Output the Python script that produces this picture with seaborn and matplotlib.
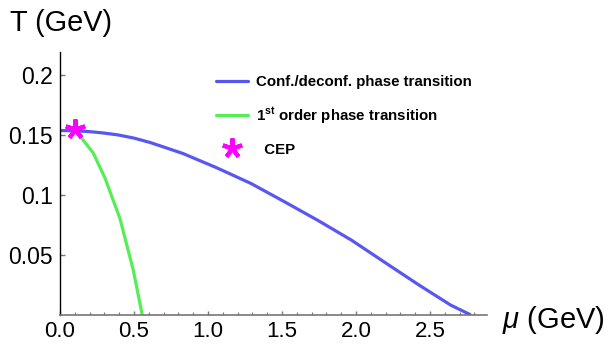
import matplotlib
matplotlib.use("Agg")
import matplotlib.pyplot as plt
import seaborn as sns
from matplotlib.lines import Line2D
from matplotlib.ticker import MultipleLocator

# ---- data ----
mu_conf = [0.0, 0.10, 0.19, 0.29, 0.39, 0.50, 0.61, 0.83, 1.06, 1.29, 1.51,
           1.74, 1.97, 2.19, 2.42, 2.64, 2.77]
T_conf = [0.1533, 0.1531, 0.1525, 0.1513, 0.1497, 0.1470, 0.1433, 0.1342, 0.1222,
          0.1092, 0.0944, 0.0786, 0.0619, 0.0438, 0.0250, 0.0078, 0.0]

mu_first = [0.101, 0.146, 0.225, 0.304, 0.405, 0.495, 0.555]
T_first = [0.155, 0.147, 0.1345, 0.1137, 0.080, 0.037, 0.0]

mu_cep = [0.10]
T_cep = [0.155]

xticks = [0.0, 0.5, 1.0, 1.5, 2.0, 2.5]
xticklabels = ["0.0", "0.5", "1.0", "1.5", "2.0", "2.5"]
yticks = [0.05, 0.10, 0.15, 0.20]
yticklabels = ["0.05", "0.1", "0.15", "0.2"]

labels = ["Conf./deconf. phase transition",
          r"1$^{\mathbf{st}}$ order phase transition",
          "  CEP"]

BLUE = "#5858F0"
GREEN = "#55EE55"
MAGENTA = "#FF00FF"

sns.set_style("white")
plt.rcParams["font.family"] = ["Liberation Sans", "DejaVu Sans"]
plt.rcParams["text.color"] = "black"
plt.rcParams["mathtext.fontset"] = "custom"
plt.rcParams["mathtext.rm"] = "Liberation Sans"
plt.rcParams["mathtext.it"] = "Liberation Sans:italic"
plt.rcParams["mathtext.bf"] = "Liberation Sans:bold"

fig = plt.figure(figsize=(6.08, 3.45), dpi=100)
ax = fig.add_axes([60/608, 1 - 314.5/345, (487 - 60)/608, (314.5 - 51.7)/345])

sns.lineplot(x=mu_conf, y=T_conf, color=BLUE, lw=2.3, ax=ax, estimator=None)
sns.lineplot(x=mu_first, y=T_first, color=GREEN, lw=2.3, ax=ax, estimator=None)
ax.plot(mu_cep, T_cep, linestyle="none", marker=(5, 2, 0), ms=14.5,
        mew=3.0, color=MAGENTA, zorder=5, clip_on=False)

ax.set_xlim(0, 2.885)
ax.set_ylim(0, 0.219)

for s in ["top", "right"]:
    ax.spines[s].set_visible(False)
ax.spines["left"].set_color("black")
ax.spines["left"].set_linewidth(1.0)
ax.spines["bottom"].set_color("#777777")
ax.spines["bottom"].set_linewidth(1.2)

ax.set_xticks(xticks)
ax.set_xticklabels(xticklabels)
ax.xaxis.set_minor_locator(MultipleLocator(0.1))
ax.set_yticks(yticks)
ax.set_yticklabels(yticklabels)

ax.tick_params(axis="x", which="major", direction="in", length=3.2, width=1.0,
               color="#777777", labelcolor="black", labelsize=16, pad=4.5, bottom=True)
ax.tick_params(axis="x", which="minor", direction="in", length=2.0, width=0.8,
               color="#777777", bottom=True)
ax.tick_params(axis="y", which="major", direction="in", length=3.8, width=1.0,
               color="#777777", labelcolor="black", labelsize=16.5, pad=5, left=True)

fig.text(10/608, 1 - 23/345, "T (GeV)", fontsize=20.8, ha="left", va="center", color="black")
fig.text(502/608, 1 - 320/345, r"$\mu$ (GeV)", fontsize=21, ha="left", va="center", color="black")

handles = [Line2D([], [], color=BLUE, lw=2.3),
           Line2D([], [], color=GREEN, lw=2.3),
           Line2D([], [], linestyle="none", marker=(5, 2, 0), ms=14.5, mew=3.0, color=MAGENTA)]
leg = ax.legend(handles, labels, loc="upper left",
                bbox_to_anchor=(216/608, 1 - 75/345), bbox_transform=fig.transFigure,
                frameon=False, borderpad=0, borderaxespad=0,
                handlelength=2.1, handletextpad=0.6, labelspacing=1.1,
                prop={"weight": "bold", "size": 10.8})
for t in leg.get_texts():
    t.set_color("black")

fig.savefig("out.png", dpi=100)
